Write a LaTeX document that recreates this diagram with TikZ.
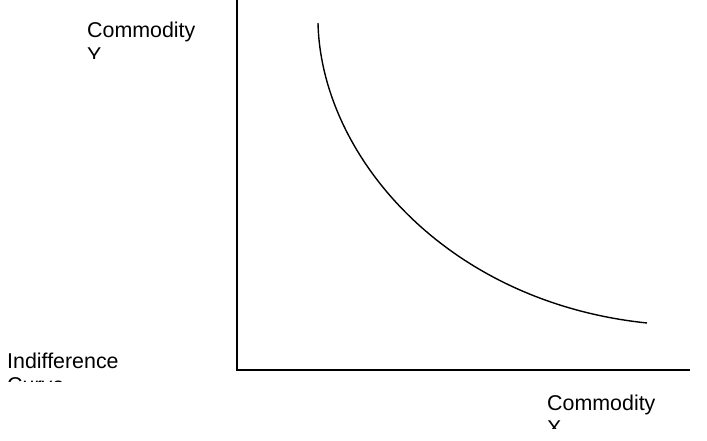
\documentclass[tikz,border=0pt]{standalone}
\usepackage{fontspec}
\setmainfont{Liberation Sans}
\begin{document}
\begin{tikzpicture}[x=1pt,y=-1pt,
  lbl/.style={anchor=base west,inner sep=0pt,font=\fontsize{21.4}{25}\selectfont},
  axis/.style={line width=2pt,line cap=rect},
  curve/.style={line width=1.4pt}]
\useasboundingbox (0,0) rectangle (707,440);
% axes
\coordinate (top) at (237,0);
\coordinate (origin) at (237,370);
\coordinate (right) at (689,370);
\draw[axis] (top) -- (origin) -- (right);
% indifference curve
\coordinate (c0) at (318,23);
\coordinate (c1) at (647,323);
\draw[curve] (c0) .. controls (321,155) and (445,302) .. (c1);
% labels
\node[lbl] (cy) at (87,37) {Commodity};
\begin{scope}
\clip (0,0) rectangle (707,58);
\node[lbl] (cy2) at (87,62) {Y};
\end{scope}
\node[lbl] (ic) at (7,368) {Indifference};
\begin{scope}
\clip (0,340) rectangle (707,381);
\node[lbl] (ic2) at (7,392) {Curve};
\end{scope}
\node[lbl] (cx) at (547,410) {Commodity};
\begin{scope}
\clip (0,390) rectangle (707,428);
\node[lbl] (cx2) at (547,435) {X};
\end{scope}
\end{tikzpicture}
\end{document}
